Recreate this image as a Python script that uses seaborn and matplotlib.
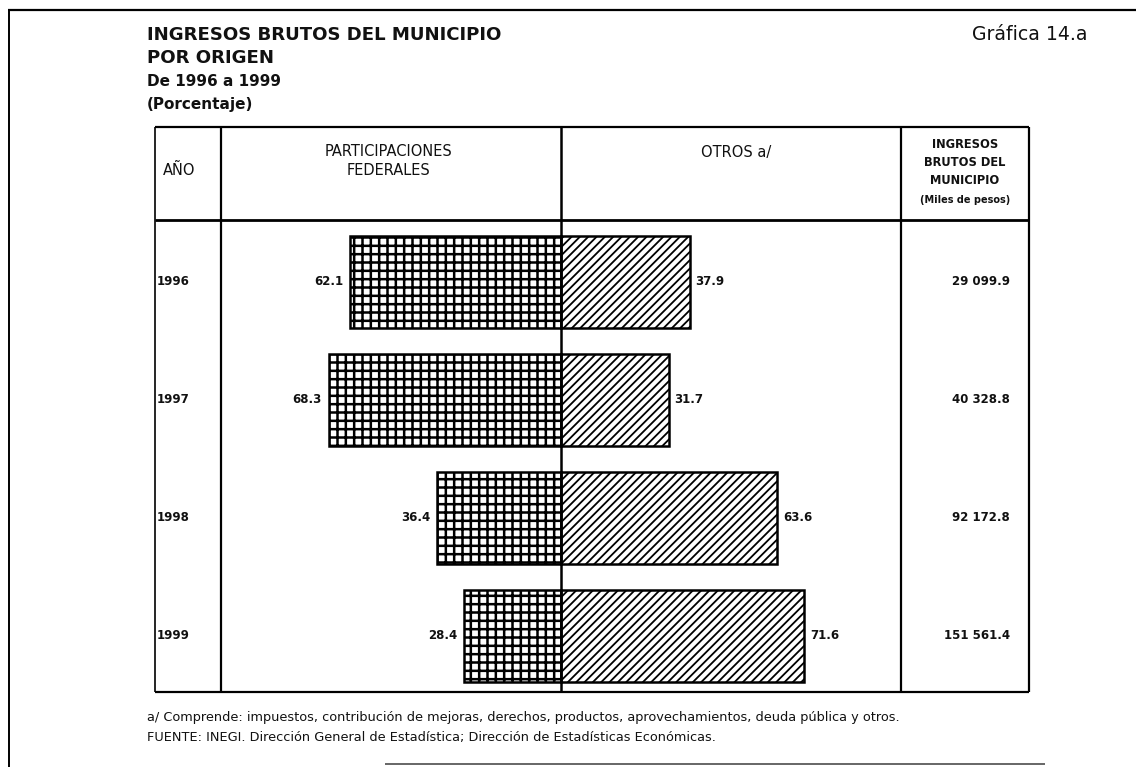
import numpy as np
import pandas as pd
import matplotlib
matplotlib.use("Agg")
import matplotlib.pyplot as plt
import matplotlib.transforms as mtrans
from matplotlib.lines import Line2D
import seaborn as sns

# ---------------- data ----------------
years = ["1996", "1997", "1998", "1999"]
participaciones = [62.1, 68.3, 36.4, 28.4]
otros = [37.9, 31.7, 63.6, 71.6]
ingresos = ["29 099.9", "40 328.8", "92 172.8", "151 561.4"]

title_lines = ["INGRESOS BRUTOS DEL MUNICIPIO", "POR ORIGEN", "De 1996 a 1999", "(Porcentaje)"]
grafica = "Gráfica 14.a"
col_year = "AÑO"
col_part = "PARTICIPACIONES\nFEDERALES"
col_otros = "OTROS a/"
col_ing = ["INGRESOS", "BRUTOS DEL", "MUNICIPIO", "(Miles de pesos)"]
footnotes = [
    "a/ Comprende: impuestos, contribución de mejoras, derechos, productos, aprovechamientos, deuda pública y otros.",
    "FUENTE: INEGI. Dirección General de Estadística; Dirección de Estadísticas Económicas.",
]

# ---------------- style ----------------
sns.set_theme(style="white")
plt.rcParams["font.family"] = ["DejaVu Sans"]

W, H = 1136, 767
fig = plt.figure(figsize=(W / 100, H / 100), dpi=100)
fig.patch.set_facecolor("white")
INK = "#111111"


def fx(x):
    return x / W


def fy(y):
    return 1 - y / H


ax = fig.add_axes([fx(221), fy(692), fx(901) - fx(221), fy(220) - fy(692)])

df = pd.DataFrame({
    "year": years,
    "part": [-v for v in participaciones],
    "otros": otros,
})

GRID_LW, DIAG_LW = 1.8, 1.3
plt.rcParams["hatch.linewidth"] = GRID_LW
sns.barplot(data=df, y="year", x="part", orient="h", order=years, color="white",
            saturation=1, edgecolor="black", linewidth=1.8, hatch="++", width=0.78,
            errorbar=None, ax=ax)
plt.rcParams["hatch.linewidth"] = DIAG_LW
sns.barplot(data=df, y="year", x="otros", orient="h", order=years, color="white",
            saturation=1, edgecolor="black", linewidth=1.8, hatch="////", width=0.78,
            errorbar=None, ax=ax)

for p in ax.patches:
    if hasattr(p, "set_hatch_linewidth"):
        p.set_hatch_linewidth(GRID_LW if p.get_hatch() == "++" else DIAG_LW)

ax.set_xlim(-100, 100)
ax.set_ylim(3.475, -0.525)
ax.axis("off")

lab_kw = dict(fontsize=8.5, fontweight="bold", color=INK, va="center")
for i, (pv, ov) in enumerate(zip(participaciones, otros)):
    ax.annotate(f"{pv:.1f}", xy=(-pv, i), xytext=(-5, 0), textcoords="offset points",
                ha="right", **lab_kw)
    ax.annotate(f"{ov:.1f}", xy=(ov, i), xytext=(4, 0), textcoords="offset points",
                ha="left", **lab_kw)

# rows: year and total columns (x in figure, y in data)
blend = mtrans.blended_transform_factory(fig.transFigure, ax.transData)
for i, (yr, tot) in enumerate(zip(years, ingresos)):
    fig.text(fx(173), i, yr, transform=blend, ha="center", va="center",
             fontsize=8.5, fontweight="bold", color=INK)
    fig.text(fx(1010), i, tot, transform=blend, ha="right", va="center",
             fontsize=8.5, fontweight="bold", color=INK)

# ---------------- table lines ----------------
def fline(x0, y0, x1, y1, lw=1.6, color="black"):
    fig.add_artist(Line2D([fx(x0), fx(x1)], [fy(y0), fy(y1)], lw=lw, color=color,
                          transform=fig.transFigure, solid_capstyle="butt"))

fline(155, 127, 1029, 127)
fline(155, 692, 1029, 692)
fline(155, 220, 1029, 220, lw=2.0)
fline(155, 127, 155, 692, lw=1.2)
fline(1029, 127, 1029, 692)
fline(221, 127, 221, 692)
fline(901, 127, 901, 692)
fline(561, 127, 561, 692, lw=1.8)

# page frame
fline(8, 10, 1136, 10, lw=1.6)
fline(9, 10, 9, 767, lw=1.4)
fline(385, 764, 1045, 764, lw=1.4, color="#666666")

# ---------------- titles ----------------
fig.text(fx(147), fy(35), title_lines[0], ha="left", va="center", fontsize=13.1, fontweight="bold", color=INK)
fig.text(fx(147), fy(58), title_lines[1], ha="left", va="center", fontsize=13.1, fontweight="bold", color=INK)
fig.text(fx(147), fy(81), title_lines[2], ha="left", va="center", fontsize=11, fontweight="bold", color=INK)
fig.text(fx(147), fy(104), title_lines[3], ha="left", va="center", fontsize=11, fontweight="bold", color=INK)
fig.text(fx(1088), fy(35), grafica, ha="right", va="center", fontsize=13.6, color=INK)

# headers
fig.text(fx(179), fy(170), col_year, ha="center", va="center", fontsize=10.5, color=INK)
fig.text(fx(389), fy(161), col_part, ha="center", va="center", fontsize=10.5, color=INK,
         linespacing=1.3)
fig.text(fx(736), fy(152), col_otros, ha="center", va="center", fontsize=10.5, color=INK)
for k, (t, yy) in enumerate(zip(col_ing, [145, 163, 181, 200])):
    fig.text(fx(965), fy(yy), t, ha="center", va="center",
             fontsize=8.3 if k < 3 else 7.0, fontweight="bold", color=INK)

# footnotes
fig.text(fx(147), fy(717), footnotes[0], ha="left", va="center", fontsize=9.3, color=INK)
fig.text(fx(147), fy(738), footnotes[1], ha="left", va="center", fontsize=9.3, color=INK)

fig.savefig("out.png", dpi=100, facecolor="white")
